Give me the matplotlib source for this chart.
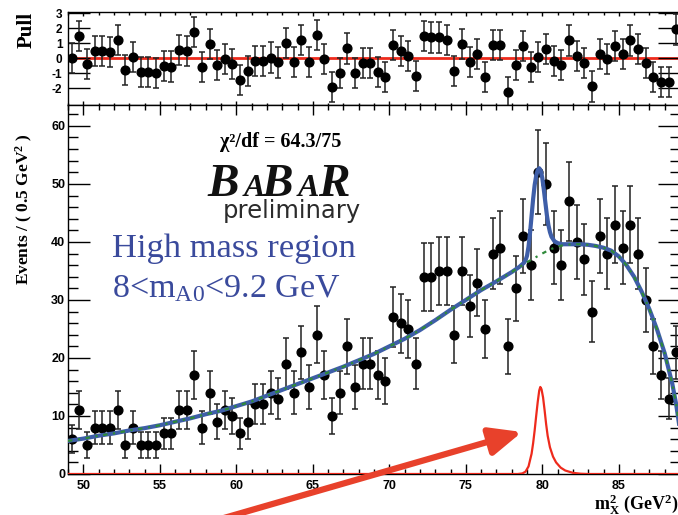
import numpy as np
import matplotlib
matplotlib.use('Agg')
import matplotlib.pyplot as plt
from matplotlib.ticker import MultipleLocator

# histogram: 0.5 GeV^2 bins from 49 to 89
bin_centers = np.arange(49.25, 89.0, 0.5)
counts = [6, 11, 5, 8, 8, 8, 11, 5, 8, 5,
          5, 5, 7, 7, 11, 11, 17, 8, 14, 9,
          11, 10, 7, 9, 12, 12, 14, 13, 19, 14,
          21, 15, 24, 17, 10, 14, 22, 15, 19, 19,
          17, 16, 27, 26, 25, 19, 34, 34, 35, 35,
          24, 35, 29, 33, 25, 38, 39, 22, 32, 41,
          36, 52, 50, 39, 36, 47, 40, 37, 28, 41,
          38, 43, 39, 43, 38, 30, 22, 17, 13, 21]
pulls = [0.0, 1.5, -0.4, 0.5, 0.47, 0.4, 1.2, -0.8, 0.1, -0.9,
         -0.93, -1.0, -0.5, -0.55, 0.53, 0.47, 1.75, -0.58, 0.93, -0.45,
         -0.07, -0.4, -1.42, -0.87, -0.2, -0.2, 0.05, -0.28, 1.0, -0.25,
         1.22, -0.25, 1.53, -0.02, -1.9, -0.95, 0.65, -0.95, -0.29, -0.29,
         -0.91, -1.27, 0.87, 0.49, 0.13, -1.18, 1.47, 1.38, 1.38, 1.24,
         -0.87, 0.93, -0.24, 0.31, -1.22, 0.87, 0.87, -2.24, -0.45, 0.82,
         -0.58, 0.09, 0.62, -0.2, -0.45, 1.18, 0.13, -0.33, -1.87, 0.31,
         -0.07, 0.82, 0.31, 1.18, 0.64, -0.29, -1.22, -1.58, -1.55, 1.91]

# background pdf (green dotted)
bkg_x = [49, 50, 51, 52, 53, 54, 55, 56, 57, 58, 59, 60, 61, 62, 63, 64, 65,
         66, 67, 68, 69, 70, 71, 72, 73, 74, 75, 76, 77, 78, 79, 80, 80.5,
         81, 81.5, 82, 82.5, 83, 83.5, 84, 84.5, 85, 85.5, 86, 86.5, 87,
         87.5, 88, 88.5, 88.75, 89]
bkg_y = [5.7, 6.1, 6.6, 7.0, 7.5, 7.9, 8.4, 9.0, 9.6, 10.3, 10.9, 11.7, 12.5,
         13.5, 14.5, 15.5, 16.5, 17.5, 18.5, 19.6, 20.7, 22.0, 23.3, 24.8,
         26.5, 28.3, 30.0, 31.7, 33.2, 34.8, 36.5, 38.0, 38.7, 39.2, 39.5,
         39.6, 39.6, 39.5, 39.3, 39.0, 38.5, 37.5, 36.0, 34.0, 31.4, 28.4,
         24.9, 20.8, 15.5, 12.0, 7.5]

# total fit (blue)
fit_x = [49, 50, 51, 52, 53, 54, 55, 56, 57, 58, 59, 60, 61, 62, 63, 64, 65,
         66, 67, 68, 69, 70, 71, 72, 73, 74, 75, 76, 77, 78, 78.5, 78.8,
         78.9, 79.0, 79.1, 79.2, 79.3, 79.4, 79.5, 79.6, 79.7, 79.8, 79.9,
         80.0, 80.1, 80.2, 80.3, 80.4, 80.5, 80.6, 80.8, 81.0, 81.3, 81.6,
         82, 82.5, 83, 83.5, 84, 84.5, 85, 85.5, 86, 86.5, 87, 87.5, 88,
         88.5, 88.75, 89]
fit_y = [5.7, 6.1, 6.6, 7.0, 7.5, 7.9, 8.4, 9.0, 9.6, 10.3, 10.9, 11.7, 12.5,
         13.5, 14.5, 15.5, 16.5, 17.5, 18.5, 19.6, 20.7, 22.0, 23.3, 24.8,
         26.5, 28.3, 30.0, 31.7, 33.2, 34.8, 35.7, 36.4, 36.8, 37.6, 39.2,
         41.6, 44.5, 47.4, 49.8, 51.4, 52.4, 52.7, 52.3, 51.0, 49.0, 46.8,
         44.6, 42.9, 41.7, 40.9, 40.1, 39.8, 39.6, 39.6, 39.6, 39.6, 39.5,
         39.3, 39.0, 38.5, 37.5, 36.0, 34.0, 31.4, 28.4, 24.9, 20.8, 15.5,
         12.0, 7.5]

# signal pdf (red)
sig_x = [49, 78.4, 78.7, 78.9, 79.1, 79.3, 79.4, 79.5, 79.6, 79.7, 79.8,
         79.87, 79.95, 80.05, 80.15, 80.25, 80.35, 80.5, 80.7, 80.9, 81.2,
         81.5, 82.0, 82.5, 83.0, 89]
sig_y = [0, 0, 0.1, 0.4, 1.3, 3.5, 5.3, 7.5, 10.0, 12.4, 14.4, 15.0, 14.6,
         13.2, 11.0, 8.6, 6.6, 4.6, 3.0, 2.0, 1.1, 0.6, 0.2, 0.05, 0, 0]

x_ticks = [50, 55, 60, 65, 70, 75, 80, 85]
pull_ticks = [-2, -1, 0, 1, 2, 3]

W, H = 678, 515
plt.rcParams['mathtext.fontset'] = 'custom'
plt.rcParams['mathtext.rm'] = 'Liberation Serif'
plt.rcParams['mathtext.it'] = 'Liberation Serif:italic'
plt.rcParams['mathtext.bf'] = 'Liberation Serif:bold'

fig = plt.figure(figsize=(W / 100, H / 100), dpi=100)

# pull pad sits behind the main pad
axp = fig.add_axes([68 / W, (H - 105) / H, (680 - 68) / W, (105 - 12) / H])
ax = fig.add_axes([68 / W, (H - 474) / H, (680 - 68) / W, (474 - 105) / H])
ax.set_zorder(2)
axp.set_zorder(1)

red = '#ee2a1c'
tick_font = dict(family='Liberation Sans', weight='bold')

# ---- pull pad ----
axp.axhline(0, color=red, lw=2, zorder=1)
axp.errorbar(bin_centers, pulls, yerr=1.0, fmt='o', color='black', ms=6.3,
             ecolor='#222222', elinewidth=1.1, capsize=2.5, capthick=1.1,
             zorder=3)
axp.set_xlim(49, 89)
axp.set_ylim(-3.1, 3.07)
axp.set_yticks(pull_ticks)
axp.set_yticklabels([str(t) for t in pull_ticks], fontsize=8.5, **tick_font)
axp.xaxis.set_minor_locator(MultipleLocator(1))
axp.set_xticks(x_ticks)
axp.tick_params(axis='x', which='major', direction='in', top=True,
                bottom=True, labelbottom=False, length=3, width=1)
axp.tick_params(axis='x', which='minor', direction='in', top=True,
                bottom=True, length=1.8, width=1)
axp.tick_params(axis='y', which='major', direction='in', left=True,
                right=True, length=16, width=1, pad=4)
for s in axp.spines.values():
    s.set_linewidth(1)

# ---- main pad ----
ax.errorbar(bin_centers, counts, yerr=np.sqrt(counts), fmt='o',
            color='black', ms=6.3, ecolor='#222222', elinewidth=1.1,
            capsize=2.5, capthick=1.1, zorder=3)
ax.plot(fit_x, fit_y, color='#3e5ea8', lw=3, zorder=4,
        solid_joinstyle='round')
ax.plot(bkg_x, bkg_y, color='#2f8a3a', lw=1.6, ls=(0, (2, 2.5, 1, 2.5)),
        zorder=5)
ax.plot(sig_x, sig_y, color=red, lw=1.6, zorder=5)

ax.set_xlim(49, 89)
ax.set_ylim(0, 63.6)
ax.set_xticks(x_ticks)
ax.set_xticklabels([str(t) for t in x_ticks], fontsize=9, **tick_font)
ax.xaxis.set_minor_locator(MultipleLocator(1))
ax.yaxis.set_major_locator(MultipleLocator(10))
ax.yaxis.set_minor_locator(MultipleLocator(2))
for lab in ax.get_yticklabels():
    lab.set_fontsize(9)
    lab.set_fontfamily('Liberation Sans')
    lab.set_fontweight('bold')
ax.tick_params(axis='x', which='major', direction='in', top=True,
               bottom=True, length=7.2, width=1, pad=4)
ax.tick_params(axis='x', which='minor', direction='in', top=True,
               bottom=True, length=3.6, width=1)
ax.tick_params(axis='y', which='major', direction='in', left=True,
               right=True, length=15.8, width=1, pad=2)
ax.tick_params(axis='y', which='minor', direction='in', left=True,
               right=True, length=7.2, width=1)
for s in ax.spines.values():
    s.set_linewidth(1)

# ---- texts ----
def px(x, y):
    return x / W, (H - y) / H

fig.text(*px(27, 30), 'Pull', rotation=90, ha='center', va='center',
         family='Liberation Serif', weight='bold', fontsize=15)
fig.text(*px(24, 209), r'Events / ( 0.5 GeV$^{\mathbf{2}}$ )', rotation=90,
         ha='center', va='center', family='Liberation Serif',
         weight='bold', fontsize=12.5)
fig.text(*px(678, 510), r'$\mathbf{m^{2}_{X}}$ (GeV$^{\mathbf{2}}$)',
         ha='right', va='baseline', family='Liberation Serif',
         weight='bold', fontsize=13)

fig.text(*px(220, 147), 'χ²/df = 64.3/75', ha='left', va='baseline',
         family='Liberation Serif', weight='bold', fontsize=14.5, zorder=10)

logo = [('B', 207, 34), ('A', 244, 23), ('B', 261, 34), ('A', 298, 23),
        ('R', 318, 34)]
for ch, lx, fs in logo:
    fig.text(*px(lx, 196), ch, ha='left', va='baseline',
             family='Liberation Serif', style='italic', weight='bold',
             fontsize=fs, color='#111111', zorder=10)
fig.text(*px(223, 218), 'preliminary', ha='left', va='baseline',
         family='DejaVu Sans', fontsize=17.5, color='#2b2b2b', zorder=10)

blue_txt = '#3a4a9c'
fig.text(*px(112, 257), 'High mass region', ha='left', va='baseline',
         family='Liberation Serif', fontsize=24.8, color=blue_txt, zorder=10)
fig.text(*px(112, 297), r'8<m$_{\mathrm{A0}}$<9.2 GeV', ha='left',
         va='baseline', family='Liberation Serif', fontsize=24.5,
         color=blue_txt, zorder=10)

# arrow pointing at the signal peak
fig.add_artist(matplotlib.patches.FancyArrowPatch(
    px(224, 518), px(522, 432), transform=fig.transFigure,
    arrowstyle='-|>,head_length=0.8,head_width=0.35', mutation_scale=24,
    lw=4.5, color='#e8412b', shrinkA=0, shrinkB=0, zorder=20))

fig.savefig('out.png', dpi=100)
